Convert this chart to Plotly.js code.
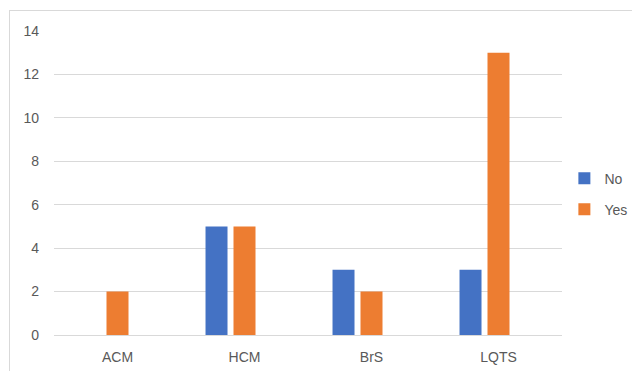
<!DOCTYPE html>
<html>
<head>
<meta charset="utf-8">
<script src="https://cdn.plot.ly/plotly-3.0.1.min.js"></script>
<style>
html,body{margin:0;padding:0;background:#fff;}
#wrap{position:relative;width:632px;height:371px;}
#chart{width:632px;height:371px;}
#frame{position:absolute;left:9px;top:10px;width:640px;height:380px;border:1px solid #d9d9d9;pointer-events:none;}
</style>
</head>
<body>
<div id="wrap"><div id="chart"></div><div id="frame"></div></div>
<script>
const categories = ["ACM", "HCM", "BrS", "LQTS"];
const noValues = [null, 5, 3, 3];
const yesValues = [2, 5, 2, 13];
const blankValues = [null, null, null, null];
const seriesNames = ["No", "Yes"];
const yTicks = [0, 2, 4, 6, 8, 10, 12, 14];

const traces = [
  {type: "bar", name: seriesNames[0], x: categories, y: noValues,
   marker: {color: "#4472C4"}, legendgroup: "a", hoverinfo: "skip"},
  {type: "bar", name: seriesNames[1], x: categories, y: yesValues,
   marker: {color: "#ED7D31"}, legendgroup: "b", hoverinfo: "skip"},
  {type: "bar", name: "", x: categories, y: blankValues,
   showlegend: false, marker: {color: "rgba(0,0,0,0)"}, hoverinfo: "skip"}
];

const fontFam = "Liberation Sans, Arial, sans-serif";
const layout = {
  width: 632, height: 371,
  margin: {l: 54, r: 70, t: 31, b: 36, pad: 0, autoexpand: false},
  paper_bgcolor: "#ffffff", plot_bgcolor: "#ffffff",
  barmode: "group", bargap: 0.339, bargroupgap: 0.214,
  font: {family: fontFam, size: 14, color: "#595959"},
  showlegend: true,
  legend: {xref: "container", yref: "container", x: 0.893, xanchor: "left", y: 0.477, yanchor: "middle",
           font: {family: fontFam, size: 14, color: "#595959"},
           itemwidth: 30, tracegroupgap: 10, bgcolor: "rgba(0,0,0,0)"},
  xaxis: {type: "category", showgrid: false, showline: false, zeroline: false,
          ticks: "", ticklabelstandoff: 12, tickfont: {size: 14, color: "#595959"}},
  yaxis: {range: [0, 14], tickvals: yTicks, ticktext: yTicks.map(String),
          showgrid: true, gridcolor: "#d9d9d9", gridwidth: 1,
          zeroline: true, zerolinecolor: "#d9d9d9", zerolinewidth: 1,
          showline: false, ticks: "", ticklabelstandoff: 14,
          tickfont: {size: 14, color: "#595959"}}
};

Plotly.newPlot("chart", traces, layout, {displayModeBar: false, staticPlot: true});
</script>
</body>
</html>
